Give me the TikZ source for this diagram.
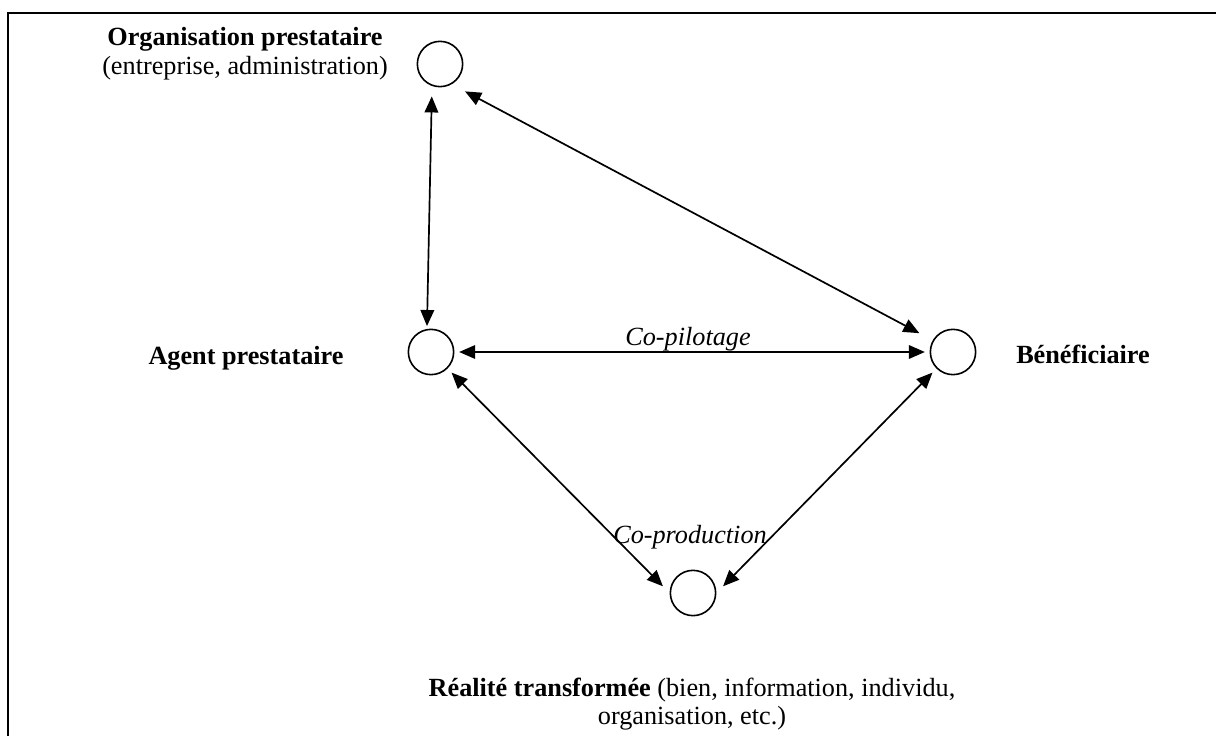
\documentclass[tikz,border=0pt]{standalone}
\usepackage{fontspec}
\setmainfont{Liberation Serif}
\usetikzlibrary{arrows.meta}
\begin{document}
\begin{tikzpicture}[x=0.53pt,y=-0.53pt,
  actor/.style={circle,draw,line width=0.85pt,minimum size=24pt,inner sep=0pt},
  lbl/.style={font=\fontsize{13.9}{15.2}\selectfont,align=center,inner sep=0pt},
  rel/.style={line width=0.9pt,{Triangle[length=8.5pt,width=7.2pt]}-{Triangle[length=8.5pt,width=7.2pt]}},
  ]
\useasboundingbox (0,0) rectangle (1216,736);
% surrounding frame
\draw[line width=1pt] (8,760) -- (8,13) -- (1240,13);

% actors
\node[actor] (org) at (440,64) {};
\node[actor] (agent) at (431,352) {};
\node[actor] (ben) at (953,352) {};
\node[actor] (real) at (693,593) {};

% captions
\node[lbl] (orgtxt) at (245,54) {\textbf{Organisation prestataire}\\(entreprise, administration)};
\node[lbl] (agenttxt) at (246,358) {\textbf{Agent prestataire}};
\node[lbl] (bentxt) at (1083,354) {\textbf{Bénéficiaire}};
\node[lbl] (realtxt) at (692,704) {\textbf{Réalité transformée} (bien, information, individu,\\organisation, etc.)};

% relations
\draw[rel,shorten <=5.5pt,shorten >=1.5pt] (org.-110) -- (agent.100);
\draw[rel,shorten <=8pt,shorten >=8pt] (org.-60) -- (ben.150);
\draw[rel,shorten <=2.5pt,shorten >=2.5pt] (agent.east) -- (ben.west);
\draw[rel,shorten <=3pt,shorten >=5pt] (agent.-45) -- (real.west);
\draw[rel,shorten <=3pt,shorten >=5pt] (ben.-135) -- (real.east);

\node[lbl] (copil) at (688,339) {\textit{Co-pilotage}};
\node[lbl] (coprod) at (690,537) {\textit{Co-production}};
\end{tikzpicture}
\end{document}
